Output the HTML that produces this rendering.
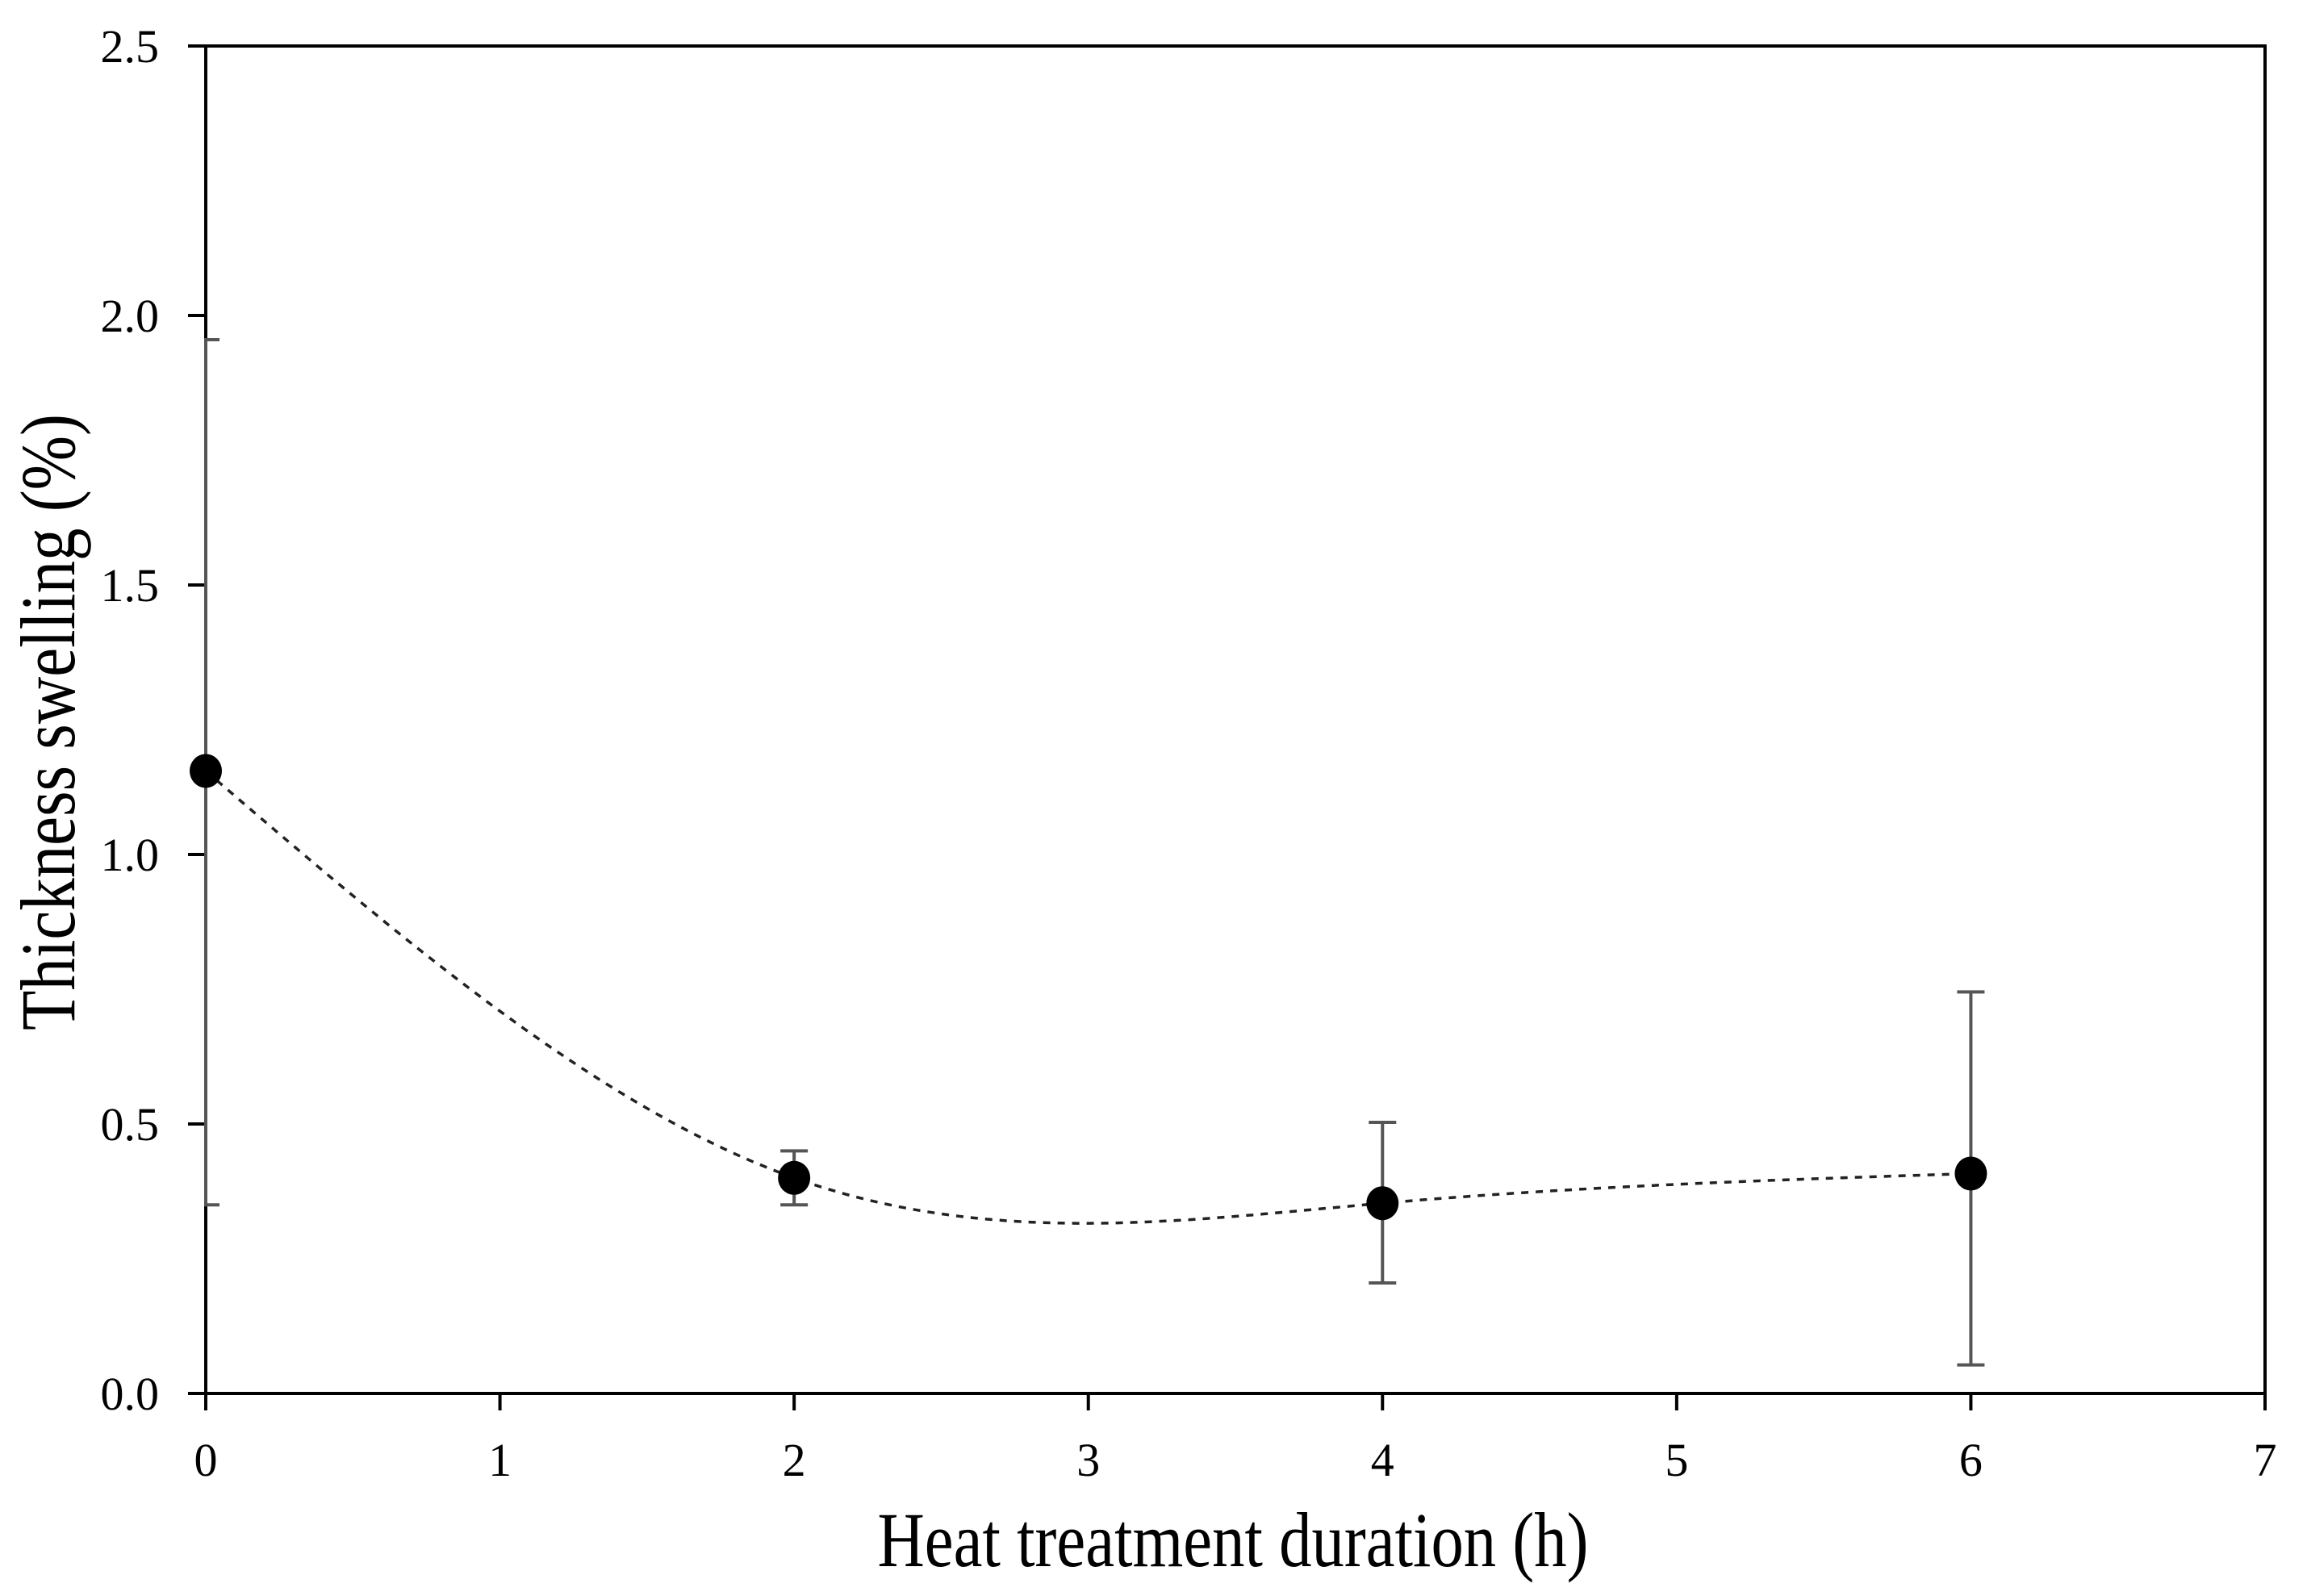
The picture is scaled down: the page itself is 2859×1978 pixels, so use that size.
<!DOCTYPE html>
<html><head><meta charset="utf-8"><style>
html,body{margin:0;padding:0;background:#fff;}
svg{display:block;}
text{font-family:"Liberation Serif",serif;fill:#000;}
</style></head><body>
<svg id="chart" width="2859" height="1978" viewBox="0 0 2859 1978">
<defs><clipPath id="plotclip"><rect x="253" y="40" width="2560" height="1687"/></clipPath></defs>
<g id="axes"></g>
<g id="series"></g>
<text x="1528" y="1941" text-anchor="middle" font-size="96" textLength="881" lengthAdjust="spacingAndGlyphs">Heat treatment  duration (h)</text>
<text transform="translate(92,895) rotate(-90)" text-anchor="middle" font-size="96" textLength="764" lengthAdjust="spacingAndGlyphs">Thickness swelling (%)</text>
</svg>
<script>
const xValues = [0, 2, 4, 6];
const yValues = [1.155, 0.40, 0.353, 0.408];
const errLow = [0.35, 0.35, 0.205, 0.053];
const errHigh = [1.955, 0.45, 0.503, 0.745];
const xTicks = [0, 1, 2, 3, 4, 5, 6, 7];
const yTicks = [0.0, 0.5, 1.0, 1.5, 2.0, 2.5];

const L = 255, R = 2807, T = 57, B = 1727;
const xMin = 0, xMax = 7, yMin = 0, yMax = 2.5;
function sx(v){ return L + (v - xMin) / (xMax - xMin) * (R - L); }
function sy(v){ return B - (v - yMin) / (yMax - yMin) * (B - T); }
const NS = 'http://www.w3.org/2000/svg';
function mk(tag, attrs, parent){
  const e = document.createElementNS(NS, tag);
  for (const k in attrs) e.setAttribute(k, attrs[k]);
  parent.appendChild(e);
  return e;
}
const axes = document.getElementById('axes');
const series = document.getElementById('series');

xTicks.forEach(t => {
  const ln = mk('line', {x1: sx(t), x2: sx(t), y1: B, y2: B + 21, stroke: '#000', 'stroke-width': 4}, axes);
  
  
  const tx = mk('text', {x: sx(t), y: 1829, 'text-anchor': 'middle', 'font-size': 58}, axes);
  tx.textContent = String(t);
  
  
});
yTicks.forEach(t => {
  const ln = mk('line', {x1: L - 22, x2: L, y1: sy(t), y2: sy(t), stroke: '#000', 'stroke-width': 4}, axes);
  
  
  const tx = mk('text', {x: 197, y: sy(t) + 20, 'text-anchor': 'end', 'font-size': 58}, axes);
  tx.textContent = t.toFixed(1);
  
  
});

const frame = mk('rect', {x: L, y: T, width: R - L, height: B - T, fill: 'none', stroke: '#000', 'stroke-width': 4}, axes);



function spline(xs, ys){
  const n = xs.length - 1, h = [], a = [], l = [1], mu = [0], z = [0], c = [], b = [], d = [];
  for (let i = 0; i < n; i++) h.push(xs[i+1] - xs[i]);
  for (let i = 1; i < n; i++) a[i] = 3/h[i]*(ys[i+1]-ys[i]) - 3/h[i-1]*(ys[i]-ys[i-1]);
  for (let i = 1; i < n; i++){
    l[i] = 2*(xs[i+1]-xs[i-1]) - h[i-1]*mu[i-1];
    mu[i] = h[i]/l[i];
    z[i] = (a[i] - h[i-1]*z[i-1]) / l[i];
  }
  c[n] = 0;
  for (let j = n-1; j >= 0; j--){
    c[j] = (j > 0 ? z[j] : 0) - mu[j]*c[j+1];
    if (j === 0) c[0] = 0;
    b[j] = (ys[j+1]-ys[j])/h[j] - h[j]*(c[j+1] + 2*c[j])/3;
    d[j] = (c[j+1]-c[j])/(3*h[j]);
  }
  return function(x){
    let i = 0; while (i < n-1 && x > xs[i+1]) i++;
    const dx = x - xs[i];
    return ys[i] + b[i]*dx + c[i]*dx*dx + d[i]*dx*dx*dx;
  };
}
const f = spline(xValues, yValues);
let dstr = '';
const x0 = xValues[0], x1 = xValues[xValues.length-1];
for (let k = 0; k <= 300; k++){
  const xv = x0 + (x1 - x0) * k / 300;
  dstr += (k ? 'L' : 'M') + sx(xv).toFixed(1) + ',' + sy(f(xv)).toFixed(1);
}
const curve = mk('path', {d: dstr, fill: 'none', stroke: '#222', 'stroke-width': 3.5, 'stroke-dasharray': '9 9'}, series);



xValues.forEach((xv, i) => {
  const cx = sx(xv);
  const eb = mk('path', {d: `M${cx},${sy(errLow[i])}L${cx},${sy(errHigh[i])}M${cx-17},${sy(errLow[i])}L${cx+17},${sy(errLow[i])}M${cx-17},${sy(errHigh[i])}L${cx+17},${sy(errHigh[i])}`, stroke: '#555', 'stroke-width': 4, fill: 'none', 'clip-path': 'url(#plotclip)'}, series);
  
  
});

xValues.forEach((xv, i) => {
  const m = mk('ellipse', {cx: sx(xv), cy: sy(yValues[i]), rx: 20, ry: 21, fill: '#000'}, series);
  
  
});
</script>
</body></html>
